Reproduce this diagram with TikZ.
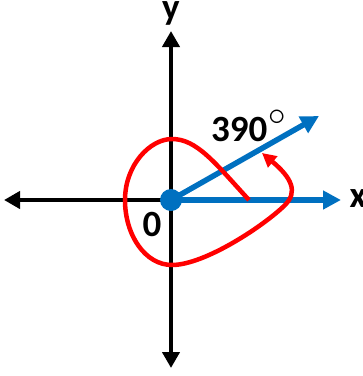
\documentclass[tikz,border=0pt]{standalone}
\usepackage{fontspec}
\setmainfont{Carlito}
\usetikzlibrary{arrows.meta}
\definecolor{axblue}{HTML}{0070C0}
\begin{document}
\begin{tikzpicture}[x=1pt,y=-1pt,
  axis/.style={line width=4.5pt},
  bigtip/.style={-{Triangle[length=16pt,width=17pt]}},
  lbl/.style={font=\fontsize{37}{40}\selectfont\bfseries, inner sep=0pt}]
\useasboundingbox (0,0) rectangle (363,376);
\coordinate (O) at (171,200);
\coordinate (xl) at (4,200);
\coordinate (xr) at (341,200);
\coordinate (yt) at (171,31);
\coordinate (yb) at (171,368);
\coordinate (rt) at (319,116);
% black axes
\draw[axis,bigtip] (O) -- (xl);
\draw[axis,{Triangle[length=16pt,width=17pt]}-{Triangle[length=16pt,width=17pt]}] (yt) -- (yb);
% blue rays
\draw[axblue,line width=5.5pt,-{Triangle[length=18pt,width=18pt]}] (O) -- (xr);
\draw[axblue,line width=5.5pt,-{Triangle[length=18pt,width=18pt]}] (O) -- (rt);
\fill[axblue] (O) circle (11);
% red curve
\draw[red,line width=4.5pt,-{Triangle[length=14pt,width=14pt]}]
  (249,200) .. controls (215,163) and (197,139) .. (172,139)
  .. controls (150,139) and (125,165) .. (125,200)
  .. controls (125,235) and (145,265) .. (172,265)
  .. controls (205,265) and (265,225) .. (285,205)
  .. controls (298,192) and (292,178) .. (262,153);
% labels
\node[lbl] (ylab) at (171,13) {y};
\node[lbl] (xlab) at (358,199) {x};
\node[lbl] (zero) at (152,224) {0};
\node[lbl,anchor=west] (ang) at (211,126) {390\kern1pt\raisebox{0.44em}{\scalebox{1.4}{$\scriptstyle\circ$}}};
\end{tikzpicture}
\end{document}
